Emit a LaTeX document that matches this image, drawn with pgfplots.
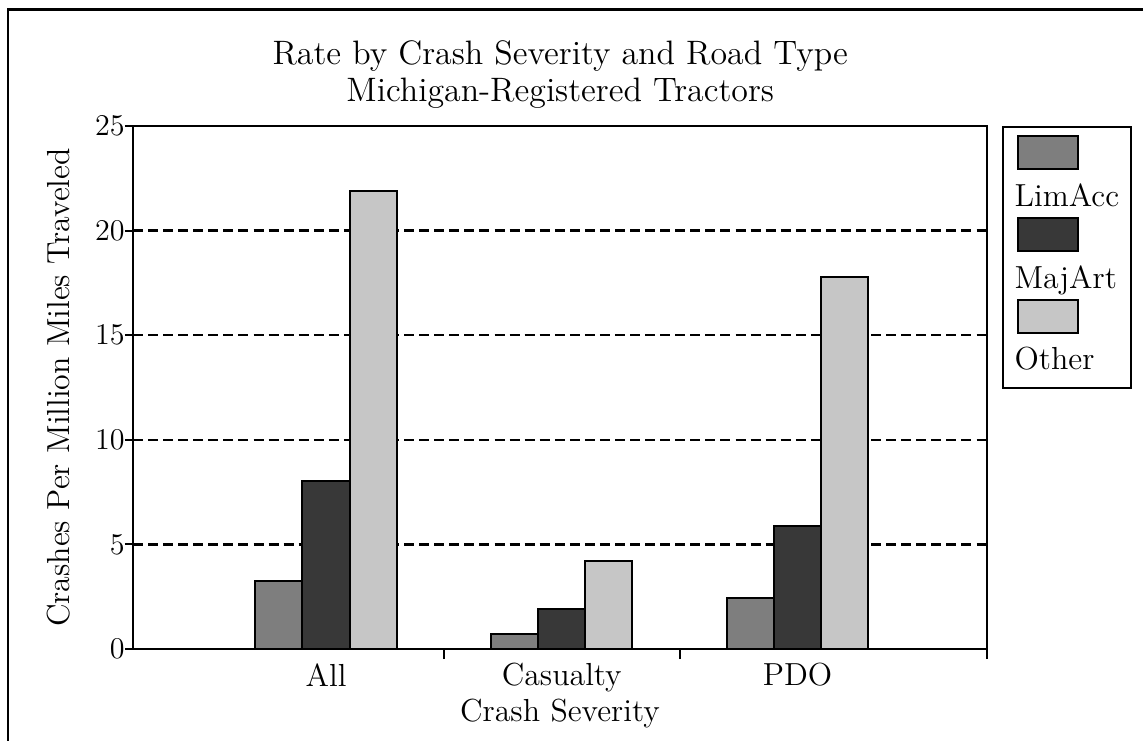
\documentclass[border=0pt]{standalone}
\usepackage{pgfplots}
\pgfplotsset{compat=1.18}

\definecolor{limacc}{HTML}{7E7E7E}
\definecolor{majart}{HTML}{383838}
\definecolor{other}{HTML}{C6C6C6}
\newcommand{\lbl}{\fontsize{12.7}{15}\selectfont}

\begin{document}
\begin{tikzpicture}
% page = 1143 x 740 px, 1 px = 0.014cm, origin at axis lower left
\useasboundingbox (-1.862cm,-1.274cm) rectangle (14.14cm,9.086cm);
\begin{scope}[x=0.014cm,y=0.014cm]
\draw[line width=1pt] (-125,-95) -- (-125,639) -- (1015,639);
\node[anchor=base,font=\fontsize{13.5}{16}\selectfont] at (427,584) {Rate by Crash Severity and Road Type};
\node[anchor=base,font=\fontsize{13.5}{16}\selectfont] at (427,547) {Michigan-Registered Tractors};
\end{scope}
\begin{axis}[
    at={(0,0)}, anchor=south west,
    scale only axis,
    width=11.956cm, height=7.322cm,
    xmin=-0.819, xmax=2.804,
    ymin=0, ymax=25,
    ytick={0,5,10,15,20,25},
    xtick={0,1,2},
    xticklabels={All,Casualty,PDO},
    minor xtick={0.5,1.5,2.804},
    xtick pos=bottom, ytick pos=left,
    tick align=outside,
    major tick length=3.2pt,
    minor tick length=4pt,
    major x tick style={draw=none},
    tick style={black, line width=0.8pt},
    axis line style={line width=1pt},
    ymajorgrids,
    grid style={black, line width=0.9pt, dash pattern=on 4pt off 2pt},
    ticklabel style={font=\lbl},
    yticklabel style={xshift=3.4pt},
    xticklabel style={yshift=1pt},
    xlabel={Crash Severity},
    xlabel style={at={(axis description cs:0.5,0)}, anchor=base, yshift=-29pt, font=\lbl},
    ylabel={Crashes Per Million Miles Traveled},
    ylabel style={at={(axis description cs:-0.0738,0.5)}, anchor=base, font=\lbl},
    ybar, bar width=0.2,
    legend style={at={(1,1)}, anchor=north west, xshift=6pt, draw=black,
        line width=0.8pt, font=\lbl, row sep=1pt, inner xsep=2.6pt, inner ysep=3.6pt},
    legend cell align=left,
    legend image code/.code={%
        \path[draw=none,fill=none] (0pt,0pt) rectangle (0pt,24.3pt);
        \draw[#1,overlay] (0.333em,11.1pt) rectangle ++(23.9pt,13.2pt);},
]
\addplot[fill=limacc, draw=black, line width=0.8pt, bar shift=-0.2]
    coordinates {(0,3.25) (1,0.73) (2,2.42)};
\addplot[fill=majart, draw=black, line width=0.8pt, bar shift=0]
    coordinates {(0,8.04) (1,1.92) (2,5.89)};
\addplot[fill=other, draw=black, line width=0.8pt, bar shift=0.2]
    coordinates {(0,21.9) (1,4.19) (2,17.8)};
\legend{LimAcc,MajArt,Other}
\end{axis}
\end{tikzpicture}
\end{document}
